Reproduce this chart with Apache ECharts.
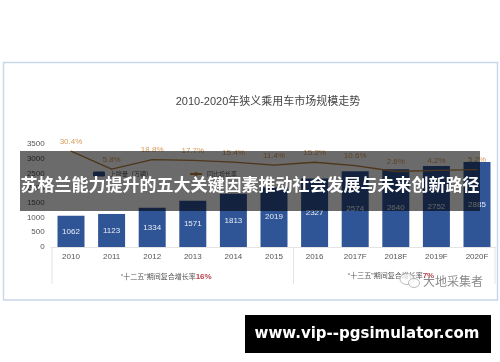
<!DOCTYPE html>
<html><head><meta charset="utf-8">
<style>html,body{margin:0;padding:0;background:#fff}#c{width:500px;height:362px}</style>
<script src="https://cdn.jsdelivr.net/npm/echarts@6/dist/echarts.min.js"></script>
</head><body><div id="c"></div>
<script>
const categories = ['2010','2011','2012','2013','2014','2015','2016','2017F','2018F','2019F','2020F'];
const salesValues = [1062,1123,1334,1571,1813,2019,2327,2574,2640,2752,2885];
const growthValues = [30.4,5.8,18.8,17.7,15.4,11.4,15.2,10.6,2.6,4.2,5.2];
const yTicks = [0,500,1000,1500,2000,2500,3000,3500];
const chartTitle = '2010-2020年狭义乘用车市场规模走势';
const bannerText = '苏格兰能力提升的五大关键因素推动社会发展与未来创新路径';
const siteText = 'www.vip--pgsimulator.com';
const noteLeft = ['“十二五”期间复合增长率','16%'];
const noteRight = ['“十三五”期间复合增长率','7%'];
const watermark = '大地采集者';
const seriesNames = ['上牌量（万辆）','同比增长率'];

const FF = '"Liberation Sans","Noto Sans CJK SC",sans-serif';
const labelShift = {2:[-10,2], 8:[-9,2]};
const chart = echarts.init(document.getElementById('c'), null, {renderer:'canvas', width:500, height:362});
chart.setOption({
  animation:false,
  backgroundColor:'#fff',
  grid:{left:50.7,right:2.7,top:144,bottom:115,containLabel:false},
  legend:{
    left:93, top:171, itemWidth:12, itemHeight:5, itemGap:37, padding:0,
    textStyle:{fontFamily:FF,fontSize:6,color:'#555'},
    data:[{name:seriesNames[0]},{name:seriesNames[1]}]
  },
  xAxis:{type:'category',data:categories,
    axisLine:{lineStyle:{color:'#e4e4e4',width:1}},axisTick:{show:false},
    axisLabel:{fontFamily:FF,fontSize:8,color:'#555',margin:6,interval:0}},
  yAxis:[
    {type:'value',min:0,max:3500,interval:500,
     axisLine:{show:false},axisTick:{show:false},splitLine:{show:false},
     axisLabel:{fontFamily:FF,fontSize:8,color:'#555',margin:6,
       formatter:v=>yTicks.includes(v)?String(v):''}},
    {type:'value',min:-100,max:40,show:false,splitLine:{show:false}}
  ],
  series:[
    {name:seriesNames[0],type:'bar',data:salesValues,barWidth:27,
     itemStyle:{color:'#2f5597'},
     label:{show:true,position:'inside',fontFamily:FF,fontSize:8,color:'#e8edf5'}},
    {name:seriesNames[1],type:'line',yAxisIndex:1,symbol:'circle',symbolSize:1,showSymbol:true,
     data:growthValues.map((v,i)=>labelShift[i]?{value:v,label:{offset:labelShift[i]}}:{value:v}),
     lineStyle:{color:'#b8803f',width:1.3},itemStyle:{color:'#b8803f'},
     labelLayout:{hideOverlap:false},
     label:{show:true,position:'top',distance:5,fontFamily:FF,fontSize:8,color:'#d79a58',formatter:p=>p.value.toFixed(1)+'%'}}
  ],
  graphic:[
    {type:'rect',z:-1,silent:true,shape:{x:3.5,y:62.5,width:494,height:237.5},style:{fill:'#fff',stroke:'#c9d7ea',lineWidth:1.5}},
    {type:'text',z:5,style:{x:268,y:102,text:chartTitle,align:'center',verticalAlign:'middle',font:'11px '+FF,fill:'#444'}},
    {type:'line',z:1,shape:{x1:52,y1:247,x2:52,y2:284},style:{stroke:'#e4e4e4',lineWidth:1}},
    {type:'line',z:1,shape:{x1:293.5,y1:247,x2:293.5,y2:284},style:{stroke:'#e4e4e4',lineWidth:1}},
    {type:'line',z:1,shape:{x1:495,y1:247,x2:495,y2:284},style:{stroke:'#e4e4e4',lineWidth:1}},
    {type:'text',z:5,style:{x:121,y:277,align:'left',verticalAlign:'middle',
      text:'{a|'+noteLeft[0]+'}{b|'+noteLeft[1]+'}',
      rich:{a:{font:'7px '+FF,fill:'#555'},b:{font:'bold 8px '+FF,fill:'#b8404a'}}}},
    {type:'text',z:5,style:{x:348,y:276,align:'left',verticalAlign:'middle',
      text:'{a|'+noteRight[0]+'}{b|'+noteRight[1]+'}',
      rich:{a:{font:'7px '+FF,fill:'#555'},b:{font:'bold 8px '+FF,fill:'#b8404a'}}}},
    {type:'ellipse',z:6,shape:{cx:407,cy:279,rx:7,ry:5.5},style:{fill:'rgba(255,255,255,0.75)',stroke:'#a8a8a8',lineWidth:0.8}},
    {type:'ellipse',z:6,shape:{cx:414,cy:283,rx:5.5,ry:4.5},style:{fill:'rgba(255,255,255,0.75)',stroke:'#a8a8a8',lineWidth:0.8}},
    {type:'text',z:6,style:{x:423,y:281,text:watermark,align:'left',verticalAlign:'middle',font:'12px "Noto Sans CJK SC",sans-serif',fill:'#8a8a8a'}},
    {type:'rect',z:100,silent:true,shape:{x:20,y:151,width:460,height:60},style:{fill:'rgba(0,0,0,0.58)'}},
    {type:'text',z:101,style:{x:250,y:185,text:bannerText,align:'center',verticalAlign:'middle',font:'bold 17px "Noto Sans CJK SC",sans-serif',fill:'#fff'}},
    {type:'rect',z:100,silent:true,shape:{x:245,y:315,width:246,height:38},style:{fill:'#000'}},
    {type:'text',z:101,style:{x:367,y:334,text:siteText,align:'center',verticalAlign:'middle',font:'bold 15px "DejaVu Sans",sans-serif',fill:'#fff'}}
  ]
});
</script></body></html>
